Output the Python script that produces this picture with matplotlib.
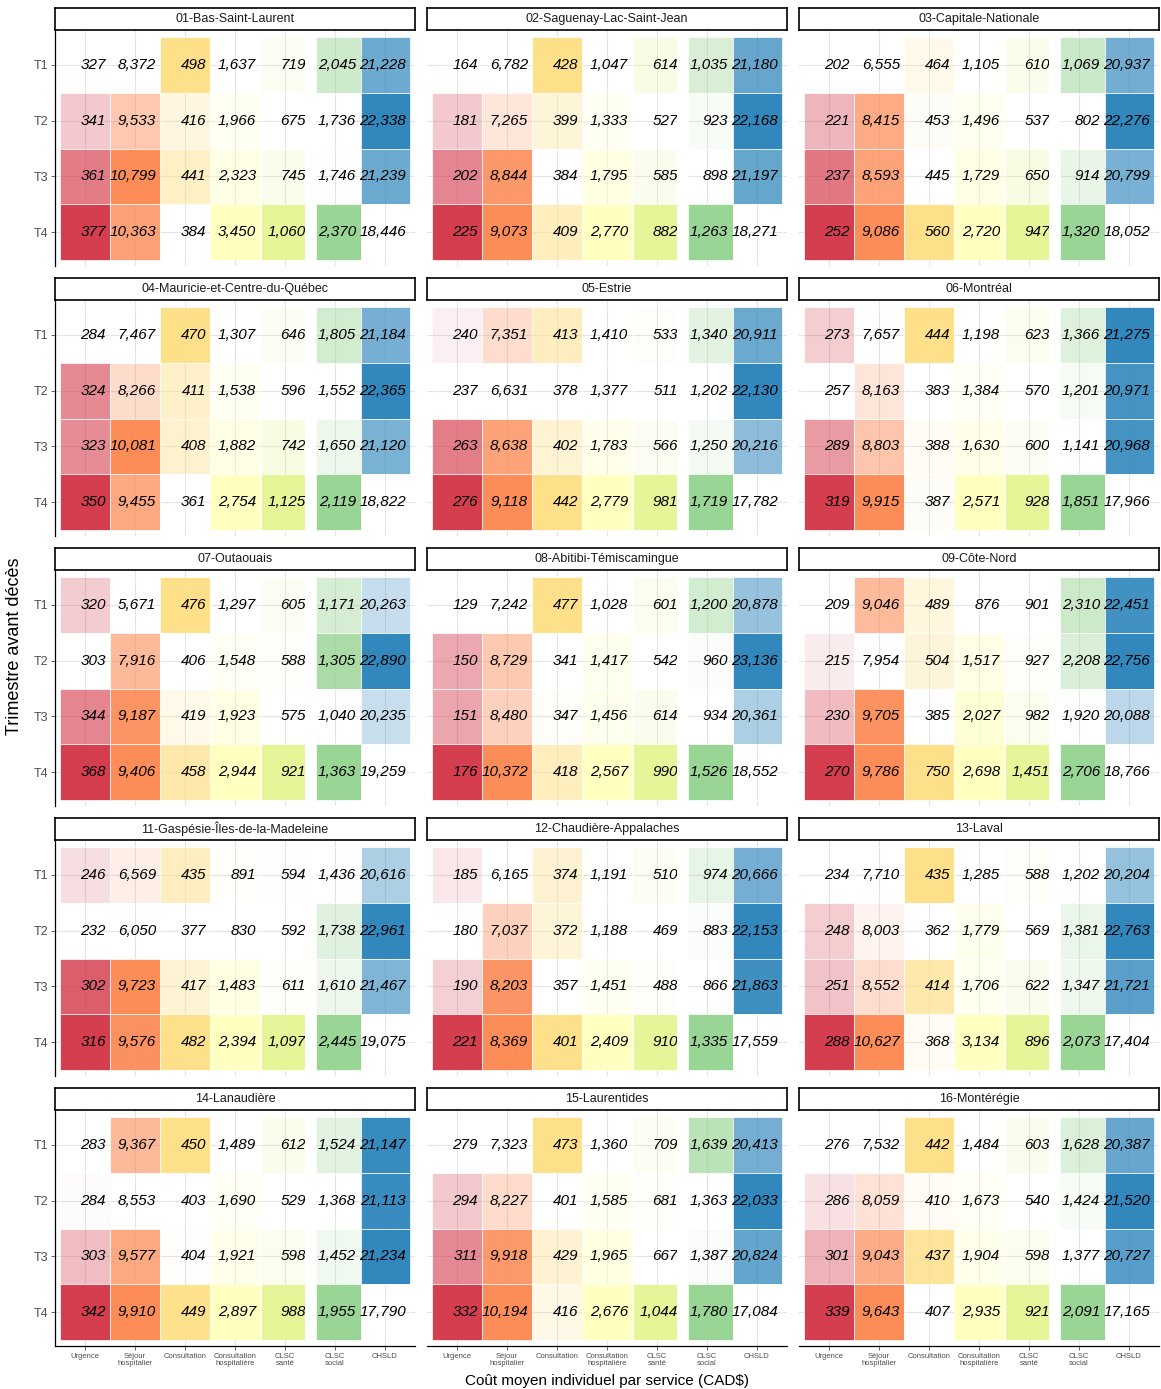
import numpy as np
import matplotlib
matplotlib.use('Agg')
import matplotlib.pyplot as plt
from matplotlib.patches import Rectangle
from matplotlib.colors import to_rgba

plt.rcParams['font.family'] = ['Liberation Sans', 'DejaVu Sans']

services = ['Urgence', 'Séjour\nhospitalier', 'Consultation', 'Consultation\nhospitalière',
            'CLSC\nsanté', 'CLSC\nsocial', 'CHSLD']
quarters = ['T1', 'T2', 'T3', 'T4']
regions = ['01-Bas-Saint-Laurent', '02-Saguenay-Lac-Saint-Jean', '03-Capitale-Nationale',
           '04-Mauricie-et-Centre-du-Québec', '05-Estrie', '06-Montréal',
           '07-Outaouais', '08-Abitibi-Témiscamingue', '09-Côte-Nord',
           '11-Gaspésie-Îles-de-la-Madeleine', '12-Chaudière-Appalaches', '13-Laval',
           '14-Lanaudière', '15-Laurentides', '16-Montérégie']

# rows = T1..T4, columns = services
r01 = [[327, 8372, 498, 1637, 719, 2045, 21228],
       [341, 9533, 416, 1966, 675, 1736, 22338],
       [361, 10799, 441, 2323, 745, 1746, 21239],
       [377, 10363, 384, 3450, 1060, 2370, 18446]]
r02 = [[164, 6782, 428, 1047, 614, 1035, 21180],
       [181, 7265, 399, 1333, 527, 923, 22168],
       [202, 8844, 384, 1795, 585, 898, 21197],
       [225, 9073, 409, 2770, 882, 1263, 18271]]
r03 = [[202, 6555, 464, 1105, 610, 1069, 20937],
       [221, 8415, 453, 1496, 537, 802, 22276],
       [237, 8593, 445, 1729, 650, 914, 20799],
       [252, 9086, 560, 2720, 947, 1320, 18052]]
r04 = [[284, 7467, 470, 1307, 646, 1805, 21184],
       [324, 8266, 411, 1538, 596, 1552, 22365],
       [323, 10081, 408, 1882, 742, 1650, 21120],
       [350, 9455, 361, 2754, 1125, 2119, 18822]]
r05 = [[240, 7351, 413, 1410, 533, 1340, 20911],
       [237, 6631, 378, 1377, 511, 1202, 22130],
       [263, 8638, 402, 1783, 566, 1250, 20216],
       [276, 9118, 442, 2779, 981, 1719, 17782]]
r06 = [[273, 7657, 444, 1198, 623, 1366, 21275],
       [257, 8163, 383, 1384, 570, 1201, 20971],
       [289, 8803, 388, 1630, 600, 1141, 20968],
       [319, 9915, 387, 2571, 928, 1851, 17966]]
r07 = [[320, 5671, 476, 1297, 605, 1171, 20263],
       [303, 7916, 406, 1548, 588, 1305, 22890],
       [344, 9187, 419, 1923, 575, 1040, 20235],
       [368, 9406, 458, 2944, 921, 1363, 19259]]
r08 = [[129, 7242, 477, 1028, 601, 1200, 20878],
       [150, 8729, 341, 1417, 542, 960, 23136],
       [151, 8480, 347, 1456, 614, 934, 20361],
       [176, 10372, 418, 2567, 990, 1526, 18552]]
r09 = [[209, 9046, 489, 876, 901, 2310, 22451],
       [215, 7954, 504, 1517, 927, 2208, 22756],
       [230, 9705, 385, 2027, 982, 1920, 20088],
       [270, 9786, 750, 2698, 1451, 2706, 18766]]
r11 = [[246, 6569, 435, 891, 594, 1436, 20616],
       [232, 6050, 377, 830, 592, 1738, 22961],
       [302, 9723, 417, 1483, 611, 1610, 21467],
       [316, 9576, 482, 2394, 1097, 2445, 19075]]
r12 = [[185, 6165, 374, 1191, 510, 974, 20666],
       [180, 7037, 372, 1188, 469, 883, 22153],
       [190, 8203, 357, 1451, 488, 866, 21863],
       [221, 8369, 401, 2409, 910, 1335, 17559]]
r13 = [[234, 7710, 435, 1285, 588, 1202, 20204],
       [248, 8003, 362, 1779, 569, 1381, 22763],
       [251, 8552, 414, 1706, 622, 1347, 21721],
       [288, 10627, 368, 3134, 896, 2073, 17404]]
r14 = [[283, 9367, 450, 1489, 612, 1524, 21147],
       [284, 8553, 403, 1690, 529, 1368, 21113],
       [303, 9577, 404, 1921, 598, 1452, 21234],
       [342, 9910, 449, 2897, 988, 1955, 17790]]
r15 = [[279, 7323, 473, 1360, 709, 1639, 20413],
       [294, 8227, 401, 1585, 681, 1363, 22033],
       [311, 9918, 429, 1965, 667, 1387, 20824],
       [332, 10194, 416, 2676, 1044, 1780, 17084]]
r16 = [[276, 7532, 442, 1484, 603, 1628, 20387],
       [286, 8059, 410, 1673, 540, 1424, 21520],
       [301, 9043, 437, 1904, 598, 1377, 20727],
       [339, 9643, 407, 2935, 921, 2091, 17165]]
costs = [r01, r02, r03, r04, r05, r06, r07, r08, r09, r11, r12, r13, r14, r15, r16]

# one Spectral colour per service, alpha scaled min->max inside each panel
service_colors = ['#D53E4F', '#FC8D59', '#FEE08B', '#FFFFBF', '#E6F598', '#99D594', '#3288BD']
left_edges = [-0.5, 0.5, 1.5, 2.5, 3.52, 4.62, 5.52]
right_edges = [0.5, 1.5, 2.5, 3.5, 4.40, 5.52, 6.5]

W, H = 1161, 1389
fig = plt.figure(figsize=(W / 100, H / 100), dpi=100)

col_x = [55, 427, 799]
pw, ph = 360, 235
grey = '#4D4D4D'

for k, (name, vals) in enumerate(zip(regions, costs)):
    r, c = divmod(k, 3)
    top = 31 + 270 * r
    ax = fig.add_axes([col_x[c] / W, 1 - (top + ph) / H, pw / W, ph / H])
    vals = np.array(vals)
    ax.set_xlim(-0.6, 6.6)
    ax.set_ylim(4.6, 0.4)

    for j in range(len(services)):
        col = vals[:, j]
        alpha = (col - col.min()) / (col.max() - col.min())
        for i in range(len(quarters)):
            ax.add_patch(Rectangle((left_edges[j], i + 0.5), right_edges[j] - left_edges[j], 1,
                                   facecolor=to_rgba(service_colors[j], alpha[i]),
                                   edgecolor='white', lw=0.5, zorder=2 + 2 * j))
            ax.text(j + 0.42, i + 1, f'{col[i]:,}', ha='right', va='center',
                    style='italic', fontsize=11, zorder=3 + 2 * j)
    # gap between the two CLSC columns hides the overflowing text
    ax.add_patch(Rectangle((4.40, 0.5), 0.22, 4, facecolor='white', edgecolor='none', zorder=11.5))

    ax.set_xticks(range(len(services)))
    ax.set_xticklabels(services, fontsize=5.5, linespacing=1.0)
    ax.set_yticks(range(1, 5))
    ax.set_yticklabels(quarters, fontsize=9)
    ax.grid(color='#E4E4E4', lw=0.8)
    ax.set_axisbelow(True)
    ax.tick_params(length=3, width=0.6, color=grey, labelcolor=grey, pad=2)
    for s in ['top', 'right']:
        ax.spines[s].set_visible(False)
    ax.spines['left'].set_visible(c == 0)
    ax.spines['bottom'].set_visible(r == 4)
    ax.spines['left'].set_linewidth(0.9)
    ax.spines['bottom'].set_linewidth(0.9)
    if c != 0:
        ax.tick_params(left=False, labelleft=False)
    if r != 4:
        ax.tick_params(bottom=False, labelbottom=False)

    # facet strip
    sx = fig.add_axes([col_x[c] / W, 1 - (8 + 270 * r + 22) / H, pw / W, 22 / H])
    sx.set_xticks([])
    sx.set_yticks([])
    for s in sx.spines.values():
        s.set_linewidth(1.2)
        s.set_color('black')
    sx.text(0.5, 0.5, name, ha='center', va='center', fontsize=9, color='#1A1A1A',
            transform=sx.transAxes)

fig.text(607 / W, 1 - 1381 / H, 'Coût moyen individuel par service (CAD$)',
         ha='center', va='center', fontsize=11)
fig.text(15 / W, 1 - 646 / H, 'Trimestre avant décès', rotation=90,
         ha='center', va='center', fontsize=13)

fig.savefig('out.png', dpi=100)
